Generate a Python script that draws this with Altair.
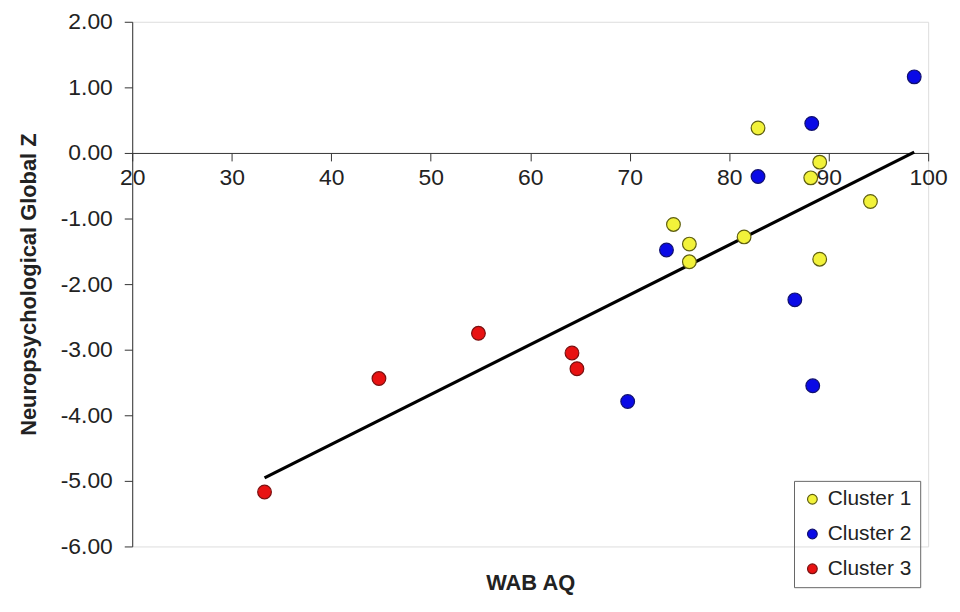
import altair as alt
import pandas as pd

# Data
c1_wab = [74.4, 82.9, 76.0, 76.0, 81.5, 89.1, 88.2, 94.2, 89.1]
c1_z = [-1.09, 0.38, -1.39, -1.66, -1.28, -0.14, -0.38, -0.74, -1.62]
c2_wab = [98.6, 88.3, 82.9, 73.7, 86.6, 88.4, 69.8]
c2_z = [1.16, 0.45, -0.36, -1.48, -2.24, -3.55, -3.79]
c3_wab = [33.3, 44.8, 54.8, 64.2, 64.7]
c3_z = [-5.17, -3.44, -2.75, -3.05, -3.29]

clusters = ["Cluster 1", "Cluster 2", "Cluster 3"]
fill_colors = ["#F2F23A", "#0A0AE6", "#E81212"]
stroke_colors = ["#5E5E10", "#101070", "#7A1010"]

x_ticks = [20, 30, 40, 50, 60, 70, 80, 90, 100]
y_ticks = [-6, -5, -4, -3, -2, -1, 0, 1, 2]

rows = []
for name, xs, ys in zip(clusters, [c1_wab, c2_wab, c3_wab], [c1_z, c2_z, c3_z]):
    for a, b in zip(xs, ys):
        rows.append({"wab": a, "z": b, "cluster": name})
df = pd.DataFrame(rows)

W, H = 801, 528
FONT = "Liberation Sans"

xscale = alt.Scale(domain=[20, 100], nice=False, zero=False)
yscale = alt.Scale(domain=[-6, 2], nice=False, zero=False)

x_axis = alt.Axis(
    values=x_ticks, format="d", grid=False, offset=-(H * 6 / 8),
    tickSize=8, labelPadding=6, labelFontSize=23, labelFont=FONT, labelFlush=False,
    labelColor="#222", domainColor="#333", tickColor="#333",
    title="WAB AQ", titleFont=FONT, titleFontSize=22, titleFontWeight="bold",
    titleColor="#222", titleBaseline="alphabetic", titleY=439,
)
y_axis = alt.Axis(
    values=y_ticks, grid=False,
    labelExpr="(datum.value < 0 ? '-' : '') + format(abs(datum.value), '.2f')",
    tickSize=8, labelPadding=12, labelFontSize=23, labelFont=FONT,
    labelColor="#222", domainColor="#333", tickColor="#333",
    title="Neuropsychological Global Z", titleFont=FONT, titleFontSize=22,
    titleFontWeight="bold", titleColor="#222", titlePadding=20,
)

points = alt.Chart(df).mark_point(filled=True, size=190, strokeWidth=1.2, opacity=1).encode(
    x=alt.X("wab:Q", scale=xscale, axis=x_axis),
    y=alt.Y("z:Q", scale=yscale, axis=y_axis),
    fill=alt.Fill("cluster:N", scale=alt.Scale(domain=clusters, range=fill_colors),
                  legend=alt.Legend(title=None, orient="none", legendX=666, legendY=462,
                                    strokeColor="#666", padding=8, labelFont=FONT,
                                    labelFontSize=21, labelColor="#222", symbolSize=95,
                                    symbolType="circle", rowPadding=13, labelOffset=5,
                                    symbolStrokeWidth=1.2)),
    stroke=alt.Stroke("cluster:N", scale=alt.Scale(domain=clusters, range=stroke_colors),
                      legend=None),
)

line = alt.Chart(df).transform_regression("wab", "z").mark_line(
    color="black", strokeWidth=3.2
).encode(
    x=alt.X("wab:Q", scale=xscale),
    y=alt.Y("z:Q", scale=yscale),
)

chart = alt.layer(line, points).properties(
    width=W, height=H,
    autosize=alt.AutoSizeParams(type="none"),
    padding={"left": 125, "top": 12, "right": 24, "bottom": 48},
).configure_view(stroke=None).configure(background="white")

chart.save("out.html", embed_options={"renderer": "svg", "actions": False})
